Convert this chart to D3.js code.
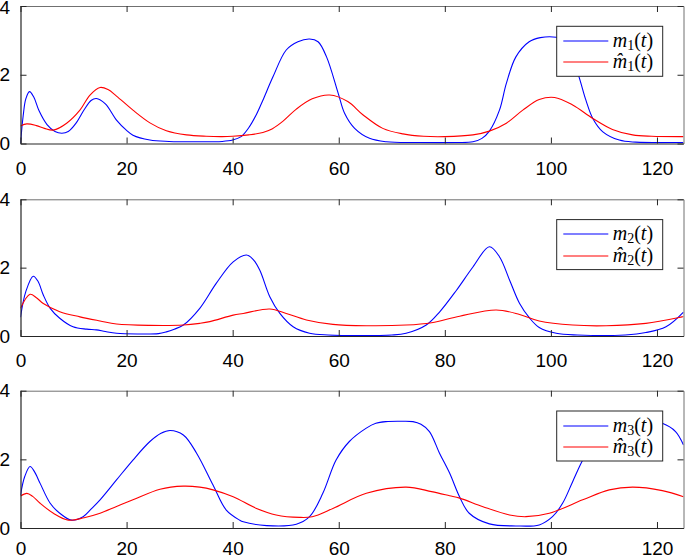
<!DOCTYPE html>
<html>
<head>
<meta charset="utf-8">
<script src="https://cdn.jsdelivr.net/npm/d3@7"></script>
<style>
html,body{margin:0;padding:0;background:#fff;}
svg{display:block;}
</style>
</head>
<body>
<svg id="chart" width="685" height="559"></svg>
<script>
// ---- data: [t, value] pairs ----
const m1 = [[0,0],[0.5,0.8],[1,1.3],[1.7,1.51],[2.5,1.35],[3.5,0.95],[5,0.55],[6.5,0.35],[7.8,0.3],[9,0.35],[10.5,0.6],[12,0.98],[13.3,1.25],[14.3,1.31],[16,1.15],[18.1,0.68],[20,0.38],[21.2,0.24],[24.4,0.1],[28,0.06],[33,0.05],[38,0.06],[40,0.1],[41.6,0.2],[43,0.45],[44.5,0.85],[45.7,1.26],[47.6,1.94],[50.1,2.72],[52.3,2.96],[54.5,3.04],[56.1,2.96],[57.7,2.52],[59.9,1.46],[61.1,0.88],[63,0.44],[65.8,0.15],[69,0.05],[75,0.03],[82,0.03],[85.3,0.05],[87,0.15],[88.4,0.36],[90.3,0.97],[91.6,1.75],[93.4,2.52],[95.9,2.96],[98,3.08],[101,3.09],[102.5,3.0],[103.6,2.7],[105.3,1.94],[106.6,1.26],[107.9,0.73],[109.8,0.34],[112.9,0.1],[116,0.04],[125,0.03]];
const m1hat = [[0,0.51],[1.2,0.57],[3,0.52],[4.5,0.44],[6.2,0.39],[8.7,0.59],[11.2,0.97],[13.1,1.41],[15,1.63],[16.5,1.57],[18.1,1.38],[21.2,0.97],[24.4,0.6],[27.5,0.37],[31.3,0.25],[35,0.21],[38,0.2],[40,0.21],[43,0.25],[45.7,0.32],[47.5,0.43],[49.5,0.65],[52,1.0],[55,1.3],[58.3,1.41],[61.7,1.22],[64.6,0.83],[68.3,0.44],[72.1,0.28],[76,0.21],[80,0.2],[85.3,0.25],[88.4,0.36],[91.6,0.59],[94.7,0.97],[97.8,1.28],[100.7,1.34],[104.1,1.12],[107.9,0.73],[111.6,0.41],[115.4,0.25],[119,0.21],[125,0.2]];
const m2 = [[0,0.55],[1,1.3],[2.4,1.75],[3.3,1.6],[4.3,1.2],[5.6,0.81],[7.4,0.52],[9.9,0.27],[12.5,0.2],[14.3,0.18],[16,0.13],[18.1,0.08],[22,0.06],[26,0.07],[27.5,0.12],[29,0.2],[30.7,0.32],[33.8,0.81],[36.9,1.54],[40.1,2.17],[42.6,2.37],[43.8,2.25],[45.1,1.93],[47,1.15],[48.9,0.66],[51.4,0.27],[54.5,0.08],[58,0.03],[70,0.03],[72.7,0.08],[76.5,0.32],[79,0.7],[82.2,1.34],[85.3,2.02],[88.4,2.61],[90.3,2.32],[92.2,1.64],[94.1,0.95],[96,0.52],[97.8,0.25],[101,0.08],[105,0.03],[114,0.03],[117.9,0.1],[121.7,0.27],[125,0.7]];
const m2hat = [[0,0.81],[1.8,1.22],[3,1.12],[4.3,0.95],[7.4,0.71],[11.2,0.56],[15,0.44],[18.1,0.35],[24.4,0.31],[30.7,0.32],[33.8,0.37],[35.7,0.42],[40.1,0.61],[42,0.66],[47,0.79],[50.1,0.66],[53.9,0.47],[58.9,0.34],[65.2,0.3],[72.7,0.32],[77.5,0.39],[82.8,0.58],[89.7,0.76],[94.1,0.63],[97.8,0.44],[104.1,0.32],[110.4,0.3],[117.9,0.37],[124.7,0.56],[125,0.57]];
const m3 = [[0,0.96],[0.8,1.5],[1.8,1.79],[2.6,1.65],[3.7,1.3],[5.6,0.72],[7.4,0.43],[9.6,0.23],[11.8,0.33],[13.3,0.55],[15,0.82],[18.1,1.4],[21.2,1.98],[24.4,2.52],[26.5,2.76],[28.2,2.84],[30.7,2.71],[33.2,2.18],[36.3,1.25],[38.8,0.52],[41.3,0.23],[42,0.18],[46.4,0.07],[52,0.11],[54.5,0.33],[57,1.01],[59.5,1.98],[62,2.52],[65.2,2.91],[67,3.05],[68.9,3.1],[71.5,3.11],[74,3.1],[75.5,3.02],[77.1,2.81],[79,2.18],[80.9,1.6],[82.8,0.9],[84.6,0.43],[88.4,0.12],[93.4,0.06],[97.8,0.09],[100.3,0.33],[102.2,0.72],[104.1,1.35],[106,1.98],[108,2.5],[110,2.85],[112,3.02],[114,3.08],[119,3.1],[121,3.05],[123.5,2.81],[125,2.42]];
const m3hat = [[0,0.93],[1.2,1.01],[2.3,0.92],[3.7,0.72],[6.2,0.43],[9,0.23],[12,0.3],[15,0.43],[18,0.62],[21.2,0.82],[26.3,1.13],[30.7,1.22],[33.8,1.19],[36.3,1.11],[40.1,0.91],[44.5,0.57],[48.2,0.38],[52.6,0.31],[55,0.33],[58.9,0.57],[65.2,1.01],[72.7,1.19],[77.5,1.06],[80.9,0.94],[82.8,0.87],[87.2,0.62],[92.2,0.38],[95.3,0.33],[99.7,0.43],[106,0.82],[111,1.11],[115.4,1.19],[121,1.09],[125,0.91]];

const xTicks = [0,20,40,60,80,100,120];
const yTicks = [0,2,4];
const xDomain = [0,125];
const yDomain = [0,4];
const subscripts = ["1","2","3"];

const panels = [
  {top:6, bottom:143.5, a:m1, b:m1hat, sub:subscripts[0], pad:18},
  {top:199.3, bottom:336, a:m2, b:m2hat, sub:subscripts[1], pad:18},
  {top:390.7, bottom:528, a:m3, b:m3hat, sub:subscripts[2], pad:14}
];

const svg = d3.select("#chart");
const left = 20.5, right = 683.5;
const x = d3.scaleLinear().domain(xDomain).range([left, right]);
const tickFont = "'Liberation Sans', Arial, Helvetica, sans-serif";
const fmt = d3.format("d");

panels.forEach((p, i) => {
  const y = d3.scaleLinear().domain(yDomain).range([p.bottom, p.top]);
  const g = svg.append("g");
  const clipId = "clip" + i;
  svg.append("clipPath").attr("id", clipId).append("rect")
    .attr("x", left).attr("y", p.top).attr("width", right-left).attr("height", p.bottom-p.top);

  const line = d3.line().x(d => x(d[0])).y(d => y(d[1])).curve(d3.curveCatmullRom.alpha(0.5));
  const lines = g.append("g").attr("clip-path", `url(#${clipId})`);
  lines.append("path").datum(p.a).attr("d", line).attr("fill","none").attr("stroke","#0000ff").attr("stroke-width",1.1);
  lines.append("path").datum(p.b).attr("d", line).attr("fill","none").attr("stroke","#ff0000").attr("stroke-width",1.1);

  // axes
  const bottomAx = g.append("g").attr("transform", `translate(0,${p.bottom})`)
    .call(d3.axisBottom(x).tickValues(xTicks).tickFormat(fmt).tickSize(-6).tickPadding(p.pad).tickSizeOuter(0));
  const topAx = g.append("g").attr("transform", `translate(0,${p.top})`)
    .call(d3.axisTop(x).tickValues(xTicks).tickSize(-6).tickFormat("").tickSizeOuter(0));
  const leftAx = g.append("g").attr("transform", `translate(${left},0)`)
    .call(d3.axisLeft(y).tickValues(yTicks).tickFormat(fmt).tickSize(-6).tickPadding(10.5).tickSizeOuter(0));
  const rightAx = g.append("g").attr("transform", `translate(${right},0)`)
    .call(d3.axisRight(y).tickValues(yTicks).tickSize(-6).tickFormat("").tickSizeOuter(0));
  [bottomAx, leftAx].forEach(a => {
    a.select(".domain").attr("stroke","#262626").attr("stroke-width",1.2);
    a.selectAll(".tick line").attr("stroke","#262626");
    a.selectAll("text").attr("font-family", tickFont).attr("font-size", 19).attr("fill","#000");
  });
  if (i === 0) {
    leftAx.selectAll(".tick").filter(d => d === yDomain[1]).select("text").attr("dy", "0.42em");
  }
  [topAx, rightAx].forEach(a => {
    a.select(".domain").attr("stroke","#707070").attr("stroke-width",1);
    a.selectAll(".tick line").attr("stroke","#262626");
  });

  // legend
  const lx = 556.7, lw = 106, ly = p.top + 20.3, lh = 50;
  const lg = g.append("g");
  lg.append("rect").attr("x", lx).attr("y", ly).attr("width", lw).attr("height", lh)
    .attr("fill","#fff").attr("stroke","#262626").attr("stroke-width",1);
  const entries = [{c:"#0000ff", hat:false},{c:"#ff0000", hat:true}];
  entries.forEach((e, k) => {
    const yy = Math.round(ly + 14.5 + k*21.5);
    lg.append("line").attr("x1", lx+6.6).attr("x2", lx+51.6).attr("y1", yy).attr("y2", yy)
      .attr("stroke", e.c).attr("stroke-width",1.1);
    const t = lg.append("text").attr("x", lx+56).attr("y", yy+6)
      .attr("font-family","'Liberation Serif','Times New Roman',serif").attr("font-size",20).attr("fill","#000");
    t.append("tspan").attr("font-style","italic").text(e.hat ? "m\u0302" : "m");
    t.append("tspan").attr("font-size",14).attr("dy",3).text(p.sub);
    t.append("tspan").attr("dy",-3).text("(");
    t.append("tspan").attr("font-style","italic").text("t");
    t.append("tspan").text(")");
  });
});
</script>
</body>
</html>
